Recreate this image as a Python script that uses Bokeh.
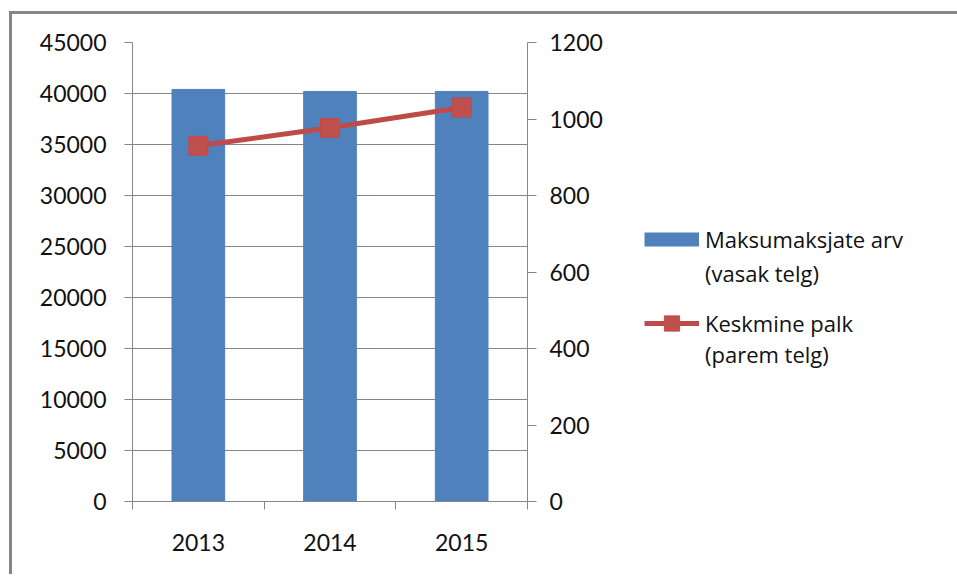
from bokeh.plotting import figure
from bokeh.layouts import row
from bokeh.models import (Range1d, LinearAxis, FixedTicker, Legend, LegendItem, ColumnDataSource)
from bokeh.embed import file_html
from bokeh.resources import INLINE

years = ["2013", "2014", "2015"]
payers = [40400, 40200, 40200]      # Maksumaksjate arv (left axis)
salary = [930, 977, 1030]           # Keskmine palk (right axis)
left_ticks = [0, 5000, 10000, 15000, 20000, 25000, 30000, 35000, 40000, 45000]
right_ticks = [0, 200, 400, 600, 800, 1000, 1200]
bar_label = ["Maksumaksjate arv", "(vasak telg)"]
line_label = ["Keskmine palk", "(parem telg)"]

xpos = [i + 0.5 for i in range(len(years))]
src = ColumnDataSource(dict(x=xpos, payers=payers, salary=salary))

GRAY = "#868686"
BLUE = "#4F81BD"
RED = "#BE4B48"
FONT = "Lato"
FS = "23px"
LFONT = "Open Sans"
LFS = "22px"
NAN = float("nan")

p = figure(width=600, height=560, output_backend="svg", toolbar_location=None,
           x_range=Range1d(0, len(years)), y_range=Range1d(0, 45000),
           min_border_left=120, min_border_top=28, min_border_right=85, min_border_bottom=73)
p.outline_line_color = None
p.background_fill_color = "white"
p.border_fill_color = "white"
p.extra_y_ranges = {"right": Range1d(0, 1200)}

p.vbar(x="x", top="payers", width=0.4, source=src, color=BLUE)
p.line(x="x", y="salary", source=src, y_range_name="right", line_color=RED, line_width=5)
p.scatter(x="x", y="salary", source=src, y_range_name="right", marker="square", size=19,
          fill_color="#C0504D", line_color=RED)

# x axis
xa = p.xaxis[0]
xa.ticker = FixedTicker(ticks=xpos, minor_ticks=list(range(len(years) + 1)))
xa.major_label_overrides = {x: y for x, y in zip(xpos, years)}
xa.major_tick_line_color = None
xa.major_tick_out = 8
xa.major_tick_in = 0
xa.minor_tick_out = 8
xa.minor_tick_in = 0
xa.minor_tick_line_color = GRAY
xa.axis_line_color = GRAY
xa.major_label_standoff = 24
p.xgrid.visible = False

# left y axis
ya = p.yaxis[0]
ya.ticker = FixedTicker(ticks=left_ticks)
ya.major_tick_out = 8
ya.major_tick_in = 0
ya.major_tick_line_color = GRAY
ya.axis_line_color = GRAY
ya.minor_tick_line_color = None
ya.major_label_standoff = 18
p.ygrid.ticker = FixedTicker(ticks=left_ticks)
p.ygrid.grid_line_color = GRAY
p.ygrid.grid_line_width = 1

# right y axis
ra = LinearAxis(y_range_name="right", ticker=FixedTicker(ticks=right_ticks))
ra.major_tick_out = 9
ra.major_tick_in = 0
ra.major_tick_line_color = GRAY
ra.axis_line_color = GRAY
ra.minor_tick_line_color = None
ra.major_label_standoff = 13
p.add_layout(ra, "right")

for ax in (xa, ya, ra):
    ax.major_label_text_font = FONT
    ax.major_label_text_font_size = FS
    ax.major_label_text_color = "#111111"

# legend panel (separate blank figure holding legend proxies)
lp = figure(width=345, height=560, output_backend="svg", toolbar_location=None,
            x_axis_type=None, y_axis_type=None, min_border=0,
            x_range=Range1d(0, 1), y_range=Range1d(0, 1))
lp.outline_line_color = None
lp.grid.visible = False
lp.border_fill_color = "white"
bar_proxy = lp.line(x=[NAN], y=[NAN], line_color=BLUE, line_width=14, line_cap="butt")
line_proxy = lp.line(x=[NAN], y=[NAN], line_color=RED, line_width=5)
mark_proxy = lp.scatter(x=[NAN], y=[NAN], marker="square", fill_color="#C0504D", line_color=RED)
blank_proxy = lp.line(x=[NAN], y=[NAN], line_alpha=0)


def make_legend(items, loc, gh):
    lg = Legend(items=items, location=loc)
    lg.border_line_color = None
    lg.background_fill_alpha = 0
    lg.padding = 0
    lg.margin = 0
    lg.label_text_font = LFONT
    lg.label_text_font_size = LFS
    lg.label_text_color = "#111111"
    lg.glyph_width = 55
    lg.glyph_height = gh
    lg.label_height = 20
    lg.spacing = 4
    lg.label_standoff = 6
    lp.add_layout(lg, "center")


make_legend([LegendItem(label=bar_label[0], renderers=[bar_proxy]),
             LegendItem(label=bar_label[1], renderers=[blank_proxy])], (32, 213), 28)
make_legend([LegendItem(label=line_label[0], renderers=[line_proxy, mark_proxy])], (32, 159), 38)
make_legend([LegendItem(label=line_label[1], renderers=[blank_proxy])], (32, 132), 28)

lay = row(p, lp, spacing=0)
lay.styles = {"border-left": "3px solid " + GRAY, "border-top": "3px solid " + GRAY,
              "margin-left": "9px", "margin-top": "11px"}

open("out.html", "w").write(file_html(lay, INLINE))
